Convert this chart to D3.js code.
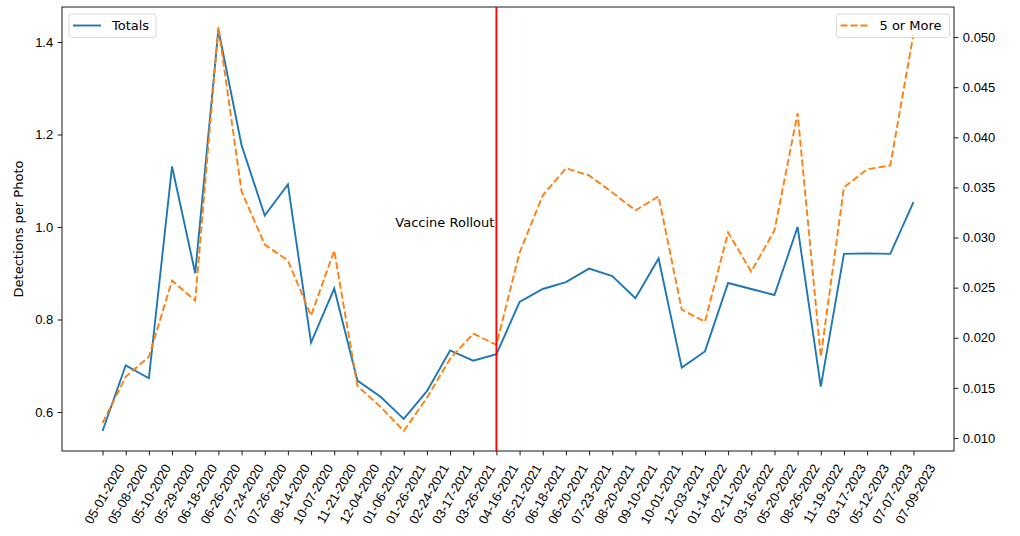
<!DOCTYPE html>
<html>
<head>
<meta charset="utf-8">
<script src="https://cdn.jsdelivr.net/npm/d3@7"></script>
<style>
  body { margin: 0; background: #fff; }
  svg { font-family: "DejaVu Sans", sans-serif; }
  .axis text { font-size: 13px; fill: #000; }
  .axis path, .axis line { stroke: #000; stroke-width: 0.9; }
</style>
</head>
<body>
<div id="chart-area"></div>
<script>
// dates along the x axis
const dates = ["05-01-2020", "05-08-2020", "05-10-2020", "05-29-2020", "06-18-2020", "06-26-2020",
  "07-24-2020", "07-26-2020", "08-14-2020", "10-07-2020", "11-21-2020", "12-04-2020",
  "01-06-2021", "01-26-2021", "02-24-2021", "03-17-2021", "03-26-2021", "04-16-2021",
  "05-21-2021", "06-18-2021", "06-20-2021", "07-23-2021", "08-20-2021", "09-10-2021",
  "10-01-2021", "12-03-2021", "01-14-2022", "02-11-2022", "03-16-2022", "05-20-2022",
  "08-26-2022", "11-19-2022", "03-17-2023", "05-12-2023", "07-07-2023", "07-09-2023"];

// left axis series
const totals = [0.559, 0.701, 0.673, 1.131, 0.900, 1.427, 1.177, 1.025, 1.092, 0.750, 0.867, 0.668,
  0.633, 0.585, 0.645, 0.733, 0.711, 0.725, 0.838, 0.866, 0.881, 0.910, 0.894, 0.846,
  0.932, 0.696, 0.731, 0.879, 0.866, 0.853, 1.000, 0.655, 0.942, 0.943, 0.942, 1.054];

// right axis series
const fiveOrMore = [0.0115, 0.0161, 0.0181, 0.0257, 0.0237, 0.0510, 0.0346, 0.0293, 0.0277, 0.0222, 0.0287, 0.0152,
  0.0131, 0.0107, 0.0140, 0.0179, 0.0204, 0.0193, 0.0285, 0.0342, 0.0369, 0.0362, 0.0345, 0.0327,
  0.0341, 0.0228, 0.0216, 0.0305, 0.0266, 0.0307, 0.0424, 0.0181, 0.0350, 0.0368, 0.0372, 0.0503];

const leftTicks = [0.6, 0.8, 1.0, 1.2, 1.4];
const rightTicks = [0.010, 0.015, 0.020, 0.025, 0.030, 0.035, 0.040, 0.045, 0.050];
const rolloutDate = "04-16-2021";

let margin = { top: 7, right: 66, bottom: 85, left: 62 },
  width = 1020 - margin.left - margin.right,
  height = 536 - margin.top - margin.bottom;

let svg = d3.select("#chart-area")
  .append("svg")
  .attr("width", 1020)
  .attr("height", 536)
  .append("g")
  .attr("transform", "translate(" + margin.left + "," + margin.top + ")");

// SCALES
let x = d3.scalePoint().domain(dates).range([0, width]).padding(1.75);
let yL = d3.scaleLinear().domain([0.5157, 1.4757]).range([height, 0]);
let yR = d3.scaleLinear().domain([0.0087, 0.0530]).range([height, 0]);

// AXES
let xAxisGroup = svg.append("g")
  .attr("class", "x-axis axis")
  .attr("transform", "translate(0," + height + ")")
  .call(d3.axisBottom(x).tickSize(4.4).tickSizeOuter(0));
xAxisGroup.select(".domain").remove();
xAxisGroup.selectAll("text")
  .attr("x", 0).attr("y", 0).attr("dy", 0)
  .attr("text-anchor", "end")
  .attr("transform", "translate(22,16.5) rotate(-60)");

let yAxisGroup = svg.append("g")
  .attr("class", "y-axis axis")
  .call(d3.axisLeft(yL).tickValues(leftTicks).tickFormat(d3.format(".1f")).tickSize(4.4).tickPadding(4.4));
yAxisGroup.select(".domain").remove();

let y2AxisGroup = svg.append("g")
  .attr("class", "y2-axis axis")
  .attr("transform", "translate(" + width + ",0)")
  .call(d3.axisRight(yR).tickValues(rightTicks).tickFormat(d3.format(".3f")).tickSize(4.4).tickPadding(4.4));
y2AxisGroup.select(".domain").remove();

// frame
svg.append("rect")
  .attr("width", width).attr("height", height)
  .attr("fill", "none").attr("stroke", "#000").attr("stroke-width", 0.9);

svg.append("text")
  .attr("transform", "translate(" + (-39.5) + "," + (height / 2) + ") rotate(-90)")
  .attr("text-anchor", "middle")
  .attr("font-size", 13)
  .text("Detections per Photo");

// LINES
let lineL = d3.line().x((d, i) => x(dates[i])).y(d => yL(d));
let lineR = d3.line().x((d, i) => x(dates[i])).y(d => yR(d));

svg.append("path")
  .datum(totals)
  .attr("d", lineL)
  .attr("fill", "none")
  .attr("stroke", "#1f77b4")
  .attr("stroke-width", 1.9);

svg.append("path")
  .datum(fiveOrMore)
  .attr("d", lineR)
  .attr("fill", "none")
  .attr("stroke", "#ff7f0e")
  .attr("stroke-width", 1.9)
  .attr("stroke-dasharray", "7,3");

// vaccine rollout marker
svg.append("line")
  .attr("x1", x(rolloutDate)).attr("x2", x(rolloutDate))
  .attr("y1", 0).attr("y2", height)
  .attr("stroke", "red").attr("stroke-width", 1.9);

svg.append("text")
  .attr("x", x(rolloutDate) - 2)
  .attr("y", yL(1.0))
  .attr("text-anchor", "end")
  .attr("font-size", 13)
  .text("Vaccine Rollout");

// LEGENDS
function legend(lx, w, label, color, dash) {
  let g = svg.append("g").attr("transform", "translate(" + lx + ",7)");
  g.append("rect")
    .attr("width", w).attr("height", 23.5).attr("rx", 2.5)
    .attr("fill", "#fff").attr("fill-opacity", 0.8)
    .attr("stroke", "#d6d6d6").attr("stroke-width", 0.9);
  g.append("line")
    .attr("x1", 4).attr("x2", 32).attr("y1", 11.5).attr("y2", 11.5)
    .attr("stroke", color).attr("stroke-width", 1.9)
    .attr("stroke-dasharray", dash);
  g.append("text")
    .attr("x", 43).attr("y", 16.3)
    .attr("font-size", 13)
    .text(label);
}
legend(69 - margin.left, 87, "Totals", "#1f77b4", null);
legend(836.5 - margin.left, 113, "5 or More", "#ff7f0e", "7,3");
</script>
</body>
</html>
